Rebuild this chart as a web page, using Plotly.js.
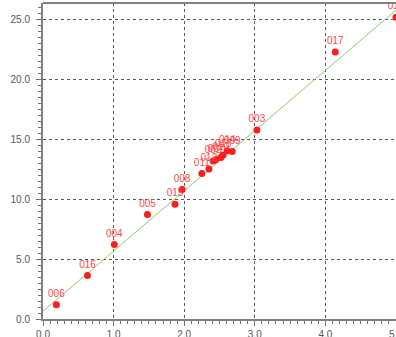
<!DOCTYPE html>
<html><head><meta charset="utf-8">
<script src="https://cdn.plot.ly/plotly-3.0.1.min.js"></script>
<style>html,body{margin:0;padding:0;background:#fff;}#chart{width:396px;height:337px;}</style>
</head><body><div id="chart"></div>
<script>
const pointLabels = ["006","016","004","005","015","008","011","012","002","007","010","013","014","009","003","017","018"];
const xValues = [0.19,0.63,1.01,1.48,1.87,1.97,2.25,2.35,2.41,2.45,2.52,2.55,2.61,2.68,3.03,4.14,5.0];
const yValues = [1.2,3.63,6.22,8.73,9.59,10.82,12.16,12.54,13.21,13.33,13.5,13.71,14.05,14.0,15.78,22.3,25.2];
const fitX = [0,5];
const fitY = [0.65,25.8];
const xTicks = [0,1,2,3,4,5];
const yTicks = [0,5,10,15,20,25];

const traces = [
  {x: fitX, y: fitY, mode: 'lines', line: {color: 'rgb(140,205,100)', width: 1}, hoverinfo: 'skip', cliponaxis: true},
  {x: xValues, y: yValues, text: pointLabels, mode: 'markers+text', textposition: 'top center',
   textfont: {family: 'Liberation Sans, Arial, sans-serif', size: 10, color: 'rgb(255,70,70)'},
   marker: {color: 'rgb(250,30,30)', size: 7}, cliponaxis: true}
];
const axisCommon = {
  showline: true, linecolor: '#808080', linewidth: 2, zeroline: false,
  showgrid: true, gridcolor: '#555555', griddash: '3px,3px', gridwidth: 1,
  ticks: 'outside', ticklen: 5, tickcolor: '#707070', tickwidth: 1,
  tickfont: {family: 'Liberation Sans, Arial, sans-serif', size: 10, color: '#555555'},
  tickformat: '.1f', tickmode: 'array', ticklabeloverflow: 'allow'
};
const layout = {
  width: 396, height: 337, showlegend: false,
  margin: {l: 43, r: 0, t: 3, b: 18},
  paper_bgcolor: '#ffffff', plot_bgcolor: '#ffffff',
  xaxis: Object.assign({}, axisCommon, {range: [0,5], tickvals: xTicks,
    minor: {dtick: 0.1, ticks: 'outside', ticklen: 3, tickcolor: '#707070', showgrid: false}}),
  yaxis: Object.assign({}, axisCommon, {range: [0,26.4], tickvals: yTicks, ticklabelstandoff: 4,
    minor: {dtick: 0.5, ticks: 'outside', ticklen: 3, tickcolor: '#707070', showgrid: false}}),
  shapes: [{type: 'line', xref: 'paper', yref: 'paper', x0: 0, x1: 1, y0: 1, y1: 1, line: {color: '#808080', width: 2}}]
};
Plotly.newPlot('chart', traces, layout, {staticPlot: true, displayModeBar: false});
</script></body></html>
